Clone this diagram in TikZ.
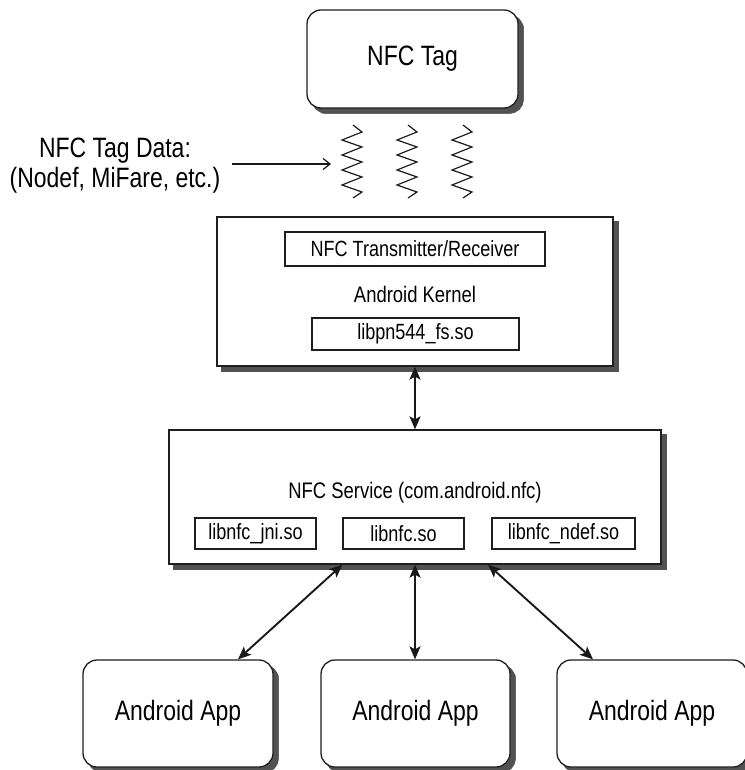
\documentclass[tikz,border=0pt]{standalone}
\usepackage{fontspec}
\setmainfont{Liberation Sans}[FakeStretch=0.82]
\usetikzlibrary{arrows.meta}
\begin{document}
\begin{tikzpicture}[x=1pt,y=-1pt,
  bigbox/.style={draw=black!88,line width=1.3pt,fill=white,inner sep=0pt,
    font=\fontsize{28}{30}\selectfont},
  rbox/.style={bigbox,rounded corners=14pt},
  sqbox/.style={bigbox,font=\fontsize{22}{25}\selectfont},
  inbox/.style={draw=black!88,line width=1.2pt,fill=white,inner sep=0pt,
    font=\fontsize{22}{25}\selectfont},
  txt/.style={inner sep=0pt,font=\fontsize{22.5}{25}\selectfont},
  shbox/.style={draw=black!68,fill=black!68,line width=1.3pt,inner sep=0pt},
  boxshadow/.style={draw=black!68,line width=4.4pt,line cap=butt,line join=miter},
  link/.style={line width=1.9pt,black!90,
    {Stealth[length=13pt,width=11pt,inset=3pt]}-{Stealth[length=13pt,width=11pt,inset=3pt]}},
  zz/.style={line width=1.2pt,black!90,line join=miter}
]
\useasboundingbox (0,0) rectangle (744,770);

% shadow copies of the outer boxes (behind)
\node[shbox,rounded corners=14pt,minimum width=211pt,minimum height=98pt] (tagsh) at (417.5,64) {};
\node[shbox,minimum width=396pt,minimum height=149pt] (kernelsh) at (420,296.5) {};
\node[shbox,minimum width=492pt,minimum height=134pt] (svcsh) at (420,502) {};
\node[shbox,rounded corners=14pt,minimum width=190pt,minimum height=107pt] (app1sh) at (183,718.5) {};
\node[shbox,rounded corners=14pt,minimum width=189pt,minimum height=107pt] (app2sh) at (420.5,718.5) {};
\node[shbox,rounded corners=14pt,minimum width=190pt,minimum height=107pt] (app3sh) at (657,718.5) {};

% NFC Tag
\node[rbox,minimum width=211pt,minimum height=98pt] (tag) at (412.5,59) {NFC Tag};

% zigzags
\foreach \L in {342,397,452}{
  \draw[zz] (\L+11,125) -- (\L+20,132) -- (\L,140) -- (\L+20,147) -- (\L,155)
    -- (\L+20,162) -- (\L,170) -- (\L+20,177) -- (\L,185) -- (\L+20,192) -- (\L+11,198);
}

% tag data label
\node[inner sep=0pt,align=center,font=\fontsize{28}{30}\selectfont] (data) at (115,166)
  {NFC Tag Data:\\(Nodef, MiFare, etc.)};
\coordinate (dstart) at (232,164);
\coordinate (dend) at (331,164);
\draw[line width=1.2pt,black!90,-{Straight Barb[length=7pt,width=11pt]}] (dstart) -- (dend);

% Android kernel
\node[sqbox,minimum width=396pt,minimum height=149pt] (kernel) at (415,291.5) {};
\node[inbox,minimum width=260pt,minimum height=34pt] (trx) at (415,249) {NFC Transmitter/Receiver};
\node[txt] (ktxt) at (415,294) {Android Kernel};
\node[inbox,minimum width=207pt,minimum height=32pt] (pn) at (415.5,334) {libpn544\_fs.so};

% NFC service
\node[sqbox,minimum width=492pt,minimum height=134pt] (svc) at (415,497) {};
\node[txt] (stxt) at (415,493) {NFC Service (com.android.nfc)};
\node[inbox,minimum width=121pt,minimum height=31pt] (jni) at (255.5,533.5) {libnfc\_jni.so};
\node[inbox,minimum width=121pt,minimum height=31pt] (lib) at (403.5,533.5) {libnfc.so};
\node[inbox,minimum width=143pt,minimum height=31pt] (ndef) at (563.5,533.5) {libnfc\_ndef.so};

% apps
\node[rbox,minimum width=190pt,minimum height=107pt] (app1) at (178,713.5) {Android App};
\node[rbox,minimum width=189pt,minimum height=107pt] (app2) at (415.5,713.5) {Android App};
\node[rbox,minimum width=190pt,minimum height=107pt] (app3) at (652,713.5) {Android App};

% shadow strips along the right and bottom sides
\draw[boxshadow,rounded corners=12pt]
  ([shift={(2.85,16)}]tag.north east) -- ([shift={(2.85,2.85)}]tag.south east)
  -- ([shift={(16,2.85)}]tag.south west);
\draw[boxshadow,rounded corners=12pt]
  ([shift={(2.85,16)}]app1.north east) -- ([shift={(2.85,2.85)}]app1.south east)
  -- ([shift={(16,2.85)}]app1.south west);
\draw[boxshadow,rounded corners=12pt]
  ([shift={(2.85,16)}]app2.north east) -- ([shift={(2.85,2.85)}]app2.south east)
  -- ([shift={(16,2.85)}]app2.south west);
\draw[boxshadow,rounded corners=12pt]
  ([shift={(2.85,16)}]app3.north east) -- ([shift={(2.85,2.85)}]app3.south east)
  -- ([shift={(16,2.85)}]app3.south west);
\draw[boxshadow]
  ([shift={(2.85,5)}]kernel.north east) -- ([shift={(2.85,2.85)}]kernel.south east)
  -- ([shift={(5,2.85)}]kernel.south west);
\draw[boxshadow]
  ([shift={(2.85,5)}]svc.north east) -- ([shift={(2.85,2.85)}]svc.south east)
  -- ([shift={(5,2.85)}]svc.south west);

% connectors
\draw[link] (kernel.south) -- (svc.north);
\draw[link] (svc.south -| lib.west) -- (app1.north -| 238,0);
\draw[link] (svc.south) -- (app2.north -| svc.south);
\draw[link] (svc.south -| 488,0) -- (app3.north -| 593,0);
\end{tikzpicture}
\end{document}
